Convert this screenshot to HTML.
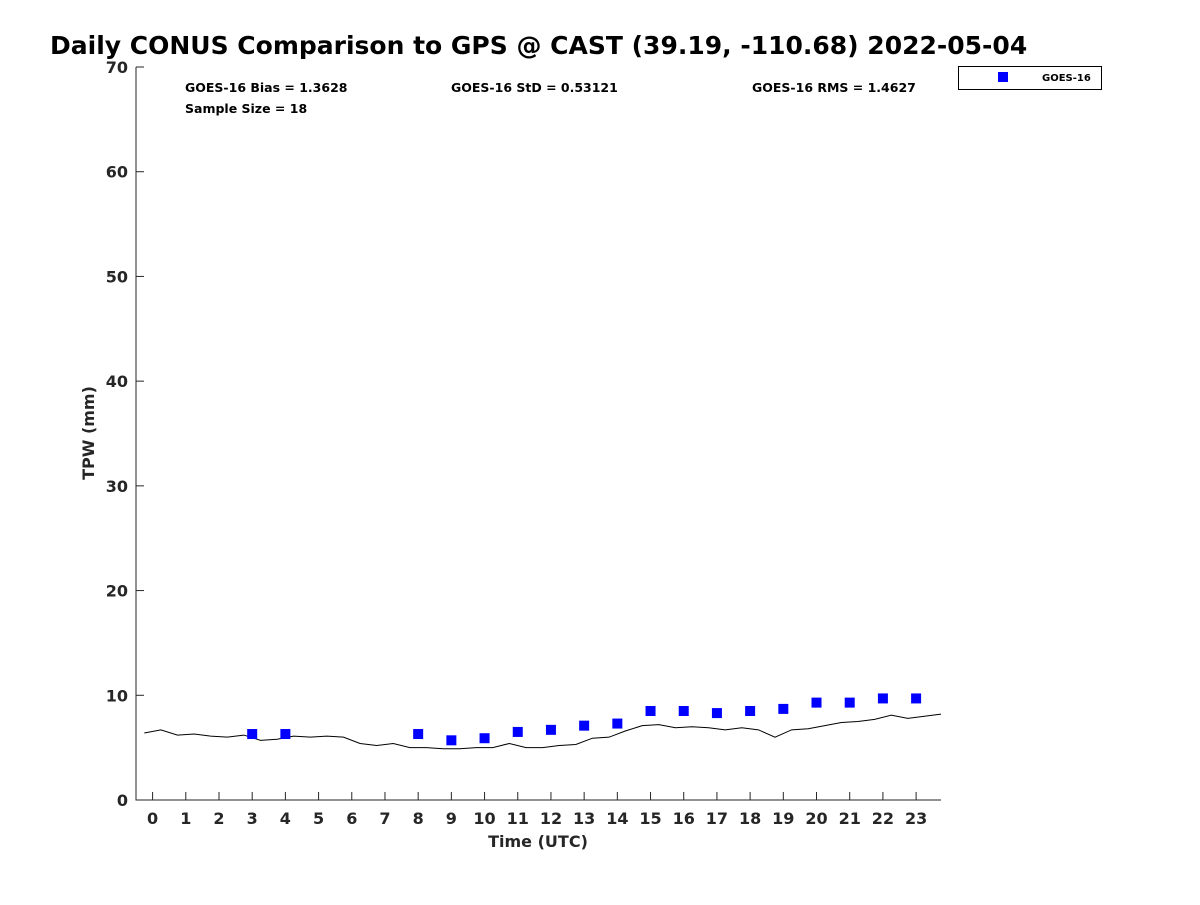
<!DOCTYPE html>
<html><head><meta charset="utf-8"><style>
body{margin:0;background:#fff;font-family:"Liberation Sans","DejaVu Sans",sans-serif}
</style></head><body>
<svg width="1200" height="900" xmlns="http://www.w3.org/2000/svg" font-family="DejaVu Sans, Liberation Sans, sans-serif" font-weight="bold">
<text x="50" y="54" font-size="25" fill="#000">Daily CONUS Comparison to GPS @ CAST (39.19, -110.68) 2022-05-04</text>
<g id="axes"></g>
<g id="marks"></g>
<text x="185" y="92" font-size="12.5">GOES-16 Bias = 1.3628</text>
<text x="451" y="92" font-size="12.5">GOES-16 StD = 0.53121</text>
<text x="752" y="92" font-size="12.5">GOES-16 RMS = 1.4627</text>
<text x="185" y="113" font-size="12.5">Sample Size = 18</text>
<g>
<rect x="958.5" y="66.5" width="143" height="23" fill="#fff" stroke="#000" stroke-width="1"/>
<rect x="998" y="72" width="10" height="10" fill="#0000ff"/>
<text x="1042" y="81" font-size="10">GOES-16</text>
</g>
<text x="538" y="847" font-size="16" text-anchor="middle" fill="#262626">Time (UTC)</text>
<text transform="translate(94,433) rotate(-90)" font-size="16" text-anchor="middle" fill="#262626">TPW (mm)</text>
</svg>
<script>
const gpsTimes=[-0.25,0.25,0.75,1.25,1.75,2.25,2.75,3.25,3.75,4.25,4.75,5.25,5.75,6.25,6.75,7.25,7.75,8.25,8.75,9.25,9.75,10.25,10.75,11.25,11.75,12.25,12.75,13.25,13.75,14.25,14.75,15.25,15.75,16.25,16.75,17.25,17.75,18.25,18.75,19.25,19.75,20.25,20.75,21.25,21.75,22.25,22.75,23.25,23.75];
const gpsValues=[6.4,6.7,6.2,6.3,6.1,6.0,6.2,5.7,5.8,6.1,6.0,6.1,6.0,5.4,5.2,5.4,5.0,5.0,4.9,4.9,5.0,5.0,5.4,5.0,5.0,5.2,5.3,5.9,6.0,6.6,7.1,7.2,6.9,7.0,6.9,6.7,6.9,6.7,6.0,6.7,6.8,7.1,7.4,7.5,7.7,8.1,7.8,8.0,8.2];
const goesHours=[3,4,8,9,10,11,12,13,14,15,16,17,18,19,20,21,22,23];
const goesValues=[6.3,6.3,6.3,5.7,5.9,6.5,6.7,7.1,7.3,8.5,8.5,8.3,8.5,8.7,9.3,9.3,9.7,9.7];
const xTicks=[0,1,2,3,4,5,6,7,8,9,10,11,12,13,14,15,16,17,18,19,20,21,22,23];
const yTicks=[0,10,20,30,40,50,60,70];
const X0=-0.5,X1=23.75,Y0=0,Y1=70,L=136,R=941,T=67,B=800;
const sx=v=>L+(v-X0)/(X1-X0)*(R-L), sy=v=>B-(v-Y0)/(Y1-Y0)*(B-T);
const NS='http://www.w3.org/2000/svg';
const ax=document.getElementById('axes'), mk=document.getElementById('marks');
function mkEl(t,a,p){const e=document.createElementNS(NS,t);for(const k in a)e.setAttribute(k,a[k]);p.appendChild(e);return e;}
let p=mkEl('path',{d:`M${L},${T}V${B}H${R}`,fill:'none',stroke:'#262626','stroke-width':1},ax);


xTicks.forEach(t=>{const x=sx(t);
 const l=mkEl('line',{x1:x,x2:x,y1:B,y2:B-8,stroke:'#262626'},ax);
 
 
 const tx=mkEl('text',{x:x,y:B+24,'font-size':16,'text-anchor':'middle',fill:'#262626'},ax);tx.textContent=t;
 
 
});
yTicks.forEach(t=>{const y=sy(t);
 const l=mkEl('line',{x1:L,x2:L+8,y1:y,y2:y,stroke:'#262626'},ax);
 
 
 const tx=mkEl('text',{x:L-8,y:y+6,'font-size':16,'text-anchor':'end',fill:'#262626'},ax);tx.textContent=t;
 
 
});
const line=mkEl('polyline',{points:gpsTimes.map((t,i)=>sx(t)+','+sy(gpsValues[i])).join(' '),fill:'none',stroke:'#000','stroke-width':1},mk);


goesHours.forEach((h,i)=>{
 const r=mkEl('rect',{x:sx(h)-5,y:sy(goesValues[i])-5,width:10,height:10,fill:'#0000ff'},mk);
 
 
});
</script>
</body></html>
